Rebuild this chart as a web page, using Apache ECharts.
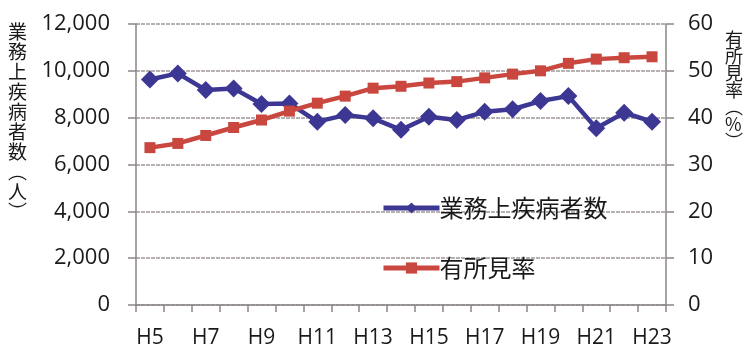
<!DOCTYPE html>
<html>
<head>
<meta charset="utf-8">
<script src="https://cdn.jsdelivr.net/npm/echarts@6/dist/echarts.min.js"></script>
<style>
html,body{margin:0;padding:0;background:#fff;}
#chart{width:744px;height:349px;}
</style>
</head>
<body>
<div id="chart"></div>
<script>
var categories = ['H5','H6','H7','H8','H9','H10','H11','H12','H13','H14','H15','H16','H17','H18','H19','H20','H21','H22','H23'];
var diseaseCounts = [9630, 9890, 9180, 9250, 8580, 8610, 7830, 8110, 7970, 7480, 8040, 7900, 8250, 8360, 8710, 8920, 7550, 8210, 7830];
var findingRates = [33.6, 34.5, 36.2, 37.9, 39.5, 41.4, 43.1, 44.6, 46.3, 46.7, 47.4, 47.7, 48.5, 49.3, 50.0, 51.6, 52.5, 52.8, 53.0];
var leftTicks = [0, 2000, 4000, 6000, 8000, 10000, 12000];
var rightTicks = [0, 10, 20, 30, 40, 50, 60];
var seriesNames = ['業務上疾病者数', '有所見率'];
var leftAxisName = '業務上疾病者数︵人︶';
var rightAxisName = '有所見率︵%︶';

var numFont = '"Open Sans", "DejaVu Sans", sans-serif';
var cjkFont = '"Noto Sans CJK JP", "Noto Sans", sans-serif';
var axisColor = '#8c8686';
var blue = '#3d3794';
var red = '#c9473f';

var chart = echarts.init(document.getElementById('chart'), null, {renderer: 'canvas'});
chart.setOption({
  animation: false,
  backgroundColor: '#ffffff',
  grid: {left: 136, right: 78, top: 24, bottom: 43, containLabel: false},
  legend: {
    orient: 'vertical',
    left: 376,
    top: 191,
    itemWidth: 56,
    itemHeight: 14,
    itemGap: 36,
    textStyle: {fontFamily: cjkFont, fontSize: 24, color: '#1a1a1a', padding: [0, 0, 0, -5]},
    data: [
      {name: seriesNames[0], lineStyle: {color: blue, width: 5}, itemStyle: {color: blue}},
      {name: seriesNames[1], lineStyle: {color: red, width: 5}, itemStyle: {color: red}}
    ]
  },
  xAxis: {
    type: 'category',
    data: categories,
    boundaryGap: true,
    axisLine: {lineStyle: {color: axisColor, width: 1.5}},
    axisTick: {show: true, interval: 0, length: 7, lineStyle: {color: axisColor, width: 1.5}},
    axisLabel: {interval: 1, margin: 23, fontFamily: numFont, fontSize: 21, color: '#1a1a1a'},
    splitLine: {show: false}
  },
  yAxis: [
    {
      type: 'value',
      min: leftTicks[0],
      max: leftTicks[leftTicks.length - 1],
      interval: leftTicks[1] - leftTicks[0],
      position: 'left',
      axisLine: {show: true, lineStyle: {color: axisColor, width: 1.5}},
      axisTick: {show: true, length: 8, lineStyle: {color: axisColor, width: 1.5}},
      axisLabel: {
        margin: 26,
        fontFamily: numFont, fontSize: 22, color: '#1a1a1a',
        formatter: function (v) { return v.toLocaleString('en-US'); }
      },
      splitLine: {show: true, lineStyle: {color: '#a09898', width: 1.5, type: [4, 1]}}
    },
    {
      type: 'value',
      min: rightTicks[0],
      max: rightTicks[rightTicks.length - 1],
      interval: rightTicks[1] - rightTicks[0],
      position: 'right',
      axisLine: {show: true, lineStyle: {color: axisColor, width: 1.5}},
      axisTick: {show: true, length: 8, lineStyle: {color: axisColor, width: 1.5}},
      axisLabel: {margin: 22, fontFamily: numFont, fontSize: 22, color: '#1a1a1a'},
      splitLine: {show: false}
    }
  ],
  series: [
    {
      name: seriesNames[0],
      type: 'line',
      yAxisIndex: 0,
      data: diseaseCounts,
      symbol: 'diamond',
      symbolSize: 18,
      lineStyle: {color: blue, width: 4.5},
      itemStyle: {color: blue},
      z: 3
    },
    {
      name: seriesNames[1],
      type: 'line',
      yAxisIndex: 1,
      data: findingRates,
      symbol: 'rect',
      symbolSize: 11,
      lineStyle: {color: red, width: 4.5},
      itemStyle: {color: red},
      z: 4
    }
  ],
  graphic: [
    {
      type: 'text',
      left: 8,
      top: 22,
      style: {
        text: leftAxisName.split('').join('\n'),
        fontFamily: cjkFont, fontSize: 19, lineHeight: 20,
        fill: '#1a1a1a', align: 'center'
      }
    },
    {
      type: 'text',
      left: 725,
      top: 30,
      style: {
        text: rightAxisName.split('').join('\n'),
        fontFamily: cjkFont, fontSize: 18, lineHeight: 17,
        fill: '#1a1a1a', align: 'center'
      }
    }
  ]
});
</script>
</body>
</html>
